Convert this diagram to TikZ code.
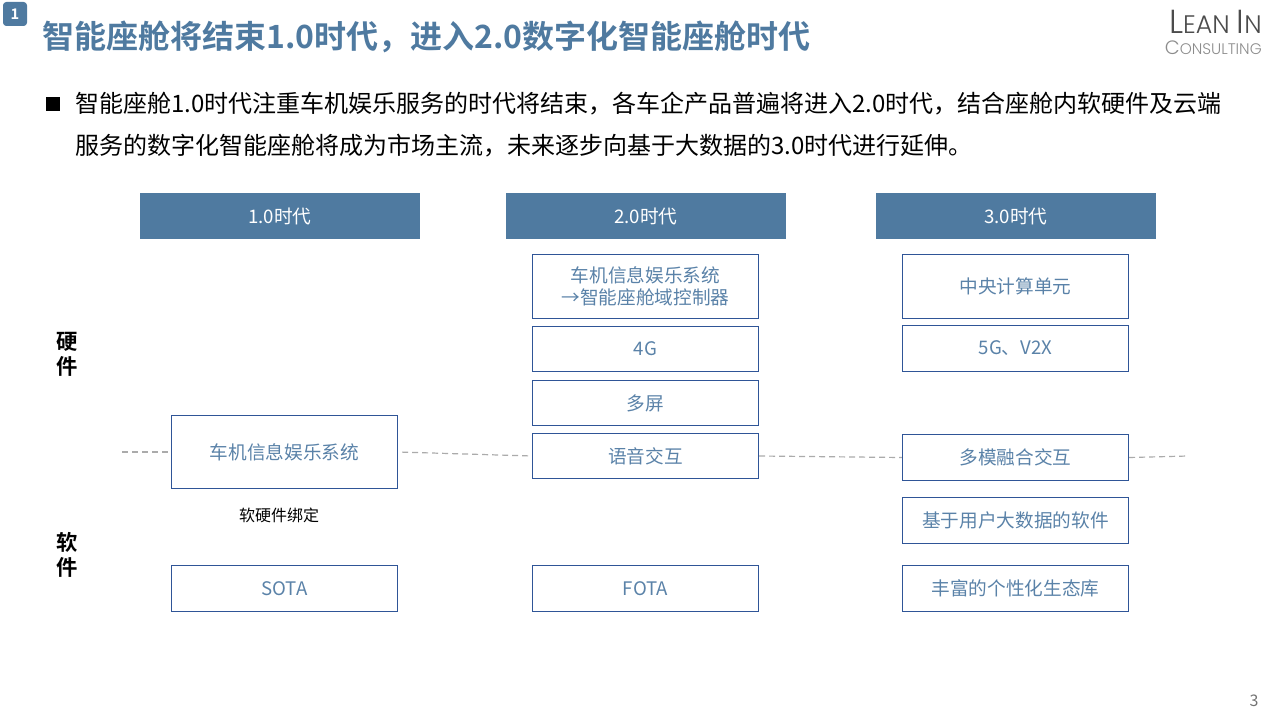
\documentclass[tikz,border=0pt]{standalone}
\usepackage{fontspec}
\setmainfont{Noto Sans CJK SC}[BoldFont={Noto Sans CJK SC Bold}]
\newfontfamily\logofont{Poppins Light}
\definecolor{leanblue}{HTML}{4F7AA0}
\definecolor{boxline}{HTML}{2F5597}
\definecolor{boxtext}{HTML}{5A82A8}
\definecolor{dashgray}{HTML}{ABABAB}
\tikzset{
  erahead/.style={fill=leanblue, text=white, minimum width=210pt, minimum height=34.5pt, inner sep=0pt, font=\fontsize{14}{17}\selectfont},
  itembox/.style={draw=boxline, line width=0.9pt, text=boxtext, minimum width=169.5pt, inner sep=0pt, align=center, font=\fontsize{14}{16.5}\selectfont},
  midline/.style={dash pattern=on 4.5pt off 3pt, dashgray, line width=0.9pt},
  bodyline/.style={anchor=west, inner sep=0pt, font=\fontsize{18}{21}\selectfont},
  sidelabel/.style={align=center, inner sep=0pt, font=\fontsize{16}{19}\selectfont\bfseries}
}
\begin{document}
\begin{tikzpicture}[x=0.75pt, y=-0.75pt]
  \useasboundingbox (0, 0) rectangle (1280, 720);

  %% 标题
  \node[fill=leanblue, rounded corners=2.5pt, text=white, minimum size=18pt, inner sep=0pt, font=\fontsize{11}{13}\selectfont\bfseries] (badge) at (15, 14) {1};
  \node[anchor=west, inner sep=0pt, text=leanblue, font=\fontsize{24}{28}\selectfont\bfseries] (title) at (42, 37)
    {智能座舱将结束1.0时代，进入2.0数字化智能座舱时代};

  %% 标志与页码
  \node[anchor=east, inner sep=0pt, text=black!70, font=\logofont\fontsize{25}{30}\selectfont] (logotop) at (1262, 22)
    {L\fontsize{19}{30}\selectfont EAN \fontsize{25}{30}\selectfont I\fontsize{19}{30}\selectfont N};
  \node[anchor=east, inner sep=0pt, text=black!45, font=\logofont\fontsize{14.5}{17}\selectfont] (logobot) at (1262, 48)
    {C\fontsize{11.5}{17}\selectfont ONSULTING};
  \node[text=black!55, inner sep=0pt, font=\fontsize{12}{14}\selectfont] (pagenum) at (1254, 701) {3};

  %% 正文
  \node[fill=black, minimum size=10.5pt, inner sep=0pt] (bullet) at (53, 104) {};
  \node[bodyline] (bodya) at (75, 104)
    {智能座舱1.0时代注重车机娱乐服务的时代将结束，各车企产品普遍将进入2.0时代，结合座舱内软硬件及云端};
  \node[bodyline] (bodyb) at (75, 146)
    {服务的数字化智能座舱将成为市场主流，未来逐步向基于大数据的3.0时代进行延伸。};

  %% 三个时代
  \foreach \nm/\xc/\lab in {eraa/280/1.0时代, erab/646/2.0时代, erac/1016/3.0时代} {
    \node[erahead] (\nm) at (\xc, 216) {\lab};
  }

  %% 方框
  \foreach \nm/\xc/\yc/\hh/\lab in {
      ivi/284.5/452/73/车机信息娱乐系统,
      sota/284.5/588.5/46/SOTA,
      domain/645.5/286.5/64/{车机信息娱乐系统\\→智能座舱域控制器},
      lte/645.5/349/45/4G,
      screen/645.5/403/45/多屏,
      voice/645.5/456/45/语音交互,
      fota/645.5/588.5/46/FOTA,
      cpu/1015.5/286.5/64/中央计算单元,
      nr/1015.5/348.5/46/5G、V2X,
      modal/1015.5/457.5/46/多模融合交互,
      data/1015.5/520.5/46/基于用户大数据的软件,
      eco/1015.5/588.5/46/丰富的个性化生态库} {
    \node[itembox, minimum height=\hh*0.75pt] (\nm) at (\xc, \yc) {\lab};
  }

  %% 硬件与软件
  \node[sidelabel] (hard) at (67, 354) {硬\\件};
  \node[sidelabel] (soft) at (67, 555) {软\\件};
  \node[inner sep=0pt, font=\fontsize{12}{14}\selectfont] (bind) at (279, 515.5) {软硬件绑定};

  %% 分界虚线
  \coordinate (lineleft) at (122, 452);
  \coordinate (lineright) at (1188, 456);
  \draw[midline] (lineleft) -- (ivi.west);
  \draw[midline, shorten <=3pt] (ivi.east) -- (voice.west);
  \draw[midline] (voice.east) -- (modal.west);
  \draw[midline] (modal.east) -- (lineright);
\end{tikzpicture}
\end{document}
